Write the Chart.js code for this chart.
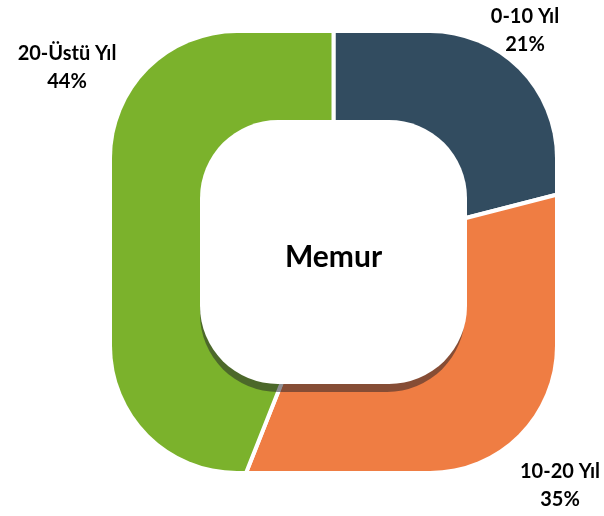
<!DOCTYPE html>
<html>
<head>
<meta charset="utf-8">
<script src="https://cdn.jsdelivr.net/npm/chart.js@4.4.0/dist/chart.umd.min.js"></script>
<style>
  html, body { margin: 0; padding: 0; background: #fff; }
  #wrap { width: 604px; height: 516px; position: relative; }
</style>
</head>
<body>
<div id="wrap"><canvas id="chart"></canvas></div>
<script>
// data
const categories = ['0-10 Yıl', '10-20 Yıl', '20-Üstü Yıl'];
const shares = [21, 35, 44];
const colors = ['#324c60', '#ef7d43', '#7bb22c'];
const centerTitle = 'Memur';

// rounded path helper
function roundRect(ctx, x, y, w, h, r) {
    ctx.beginPath();
    ctx.moveTo(x + r, y);
    ctx.lineTo(x + w - r, y);
    ctx.arcTo(x + w, y, x + w, y + r, r);
    ctx.lineTo(x + w, y + h - r);
    ctx.arcTo(x + w, y + h, x + w - r, y + h, r);
    ctx.lineTo(x + r, y + h);
    ctx.arcTo(x, y + h, x, y + h - r, r);
    ctx.lineTo(x, y + r);
    ctx.arcTo(x, y, x + r, y, r);
    ctx.closePath();
}

// squared doughnut: clip the pie to a rounded square, then punch a rounded hole
const squarePlugin = {
    id: 'squareDonut',
    beforeDatasetsDraw(chart, args, opts) {
        const arc = chart.getDatasetMeta(0).data[0];
        const ctx = chart.ctx;
        ctx.save();
        roundRect(ctx, arc.x - opts.outerW / 2, arc.y - opts.outerH / 2, opts.outerW, opts.outerH, opts.outerR);
        ctx.clip();
    },
    afterDatasetsDraw(chart, args, opts) {
        const arc = chart.getDatasetMeta(0).data[0];
        const ctx = chart.ctx;
        ctx.restore();

        const x = arc.x - opts.innerW / 2;
        const y = arc.y - opts.innerH / 2;
        ctx.save();
        ctx.fillStyle = 'rgba(30, 30, 40, 0.5)';
        roundRect(ctx, x, y + 8, opts.innerW - 2, opts.innerH, opts.innerR);
        ctx.fill();
        ctx.fillStyle = '#ffffff';
        roundRect(ctx, x, y, opts.innerW, opts.innerH, opts.innerR);
        ctx.fill();

        ctx.fillStyle = '#000';
        ctx.textAlign = 'center';
        ctx.textBaseline = 'middle';
        ctx.font = 'bold 30px Lato';
        ctx.fillText(centerTitle, arc.x, arc.y + 5);

        // category labels
        ctx.font = 'bold 20px Lato';
        opts.labelOffsets.forEach((o, i) => {
            ctx.fillText(categories[i], arc.x + o[0], arc.y + o[1] - 14);
            ctx.fillText(shares[i] + '%', arc.x + o[0], arc.y + o[1] + 14);
        });
        ctx.restore();
    }
};

new Chart(document.getElementById('chart'), {
    type: 'doughnut',
    data: {
        labels: categories,
        datasets: [{
            data: shares,
            backgroundColor: colors,
            borderColor: '#ffffff',
            borderWidth: 4,
            clip: false
        }]
    },
    options: {
        responsive: true,
        maintainAspectRatio: false,
        animation: false,
        cutout: 0,
        radius: 270,
        layout: { padding: { left: 63, right: 0, top: 0, bottom: 12 } },
        plugins: {
            legend: { display: false },
            tooltip: { enabled: false },
            squareDonut: {
                outerW: 443, outerH: 438, outerR: 125,
                innerW: 267, innerH: 264, innerR: 78,
                labelOffsets: [[191.5, -221], [226.5, 234], [-266.5, -184.5]]
            }
        }
    },
    plugins: [squarePlugin]
});
</script>
</body>
</html>
